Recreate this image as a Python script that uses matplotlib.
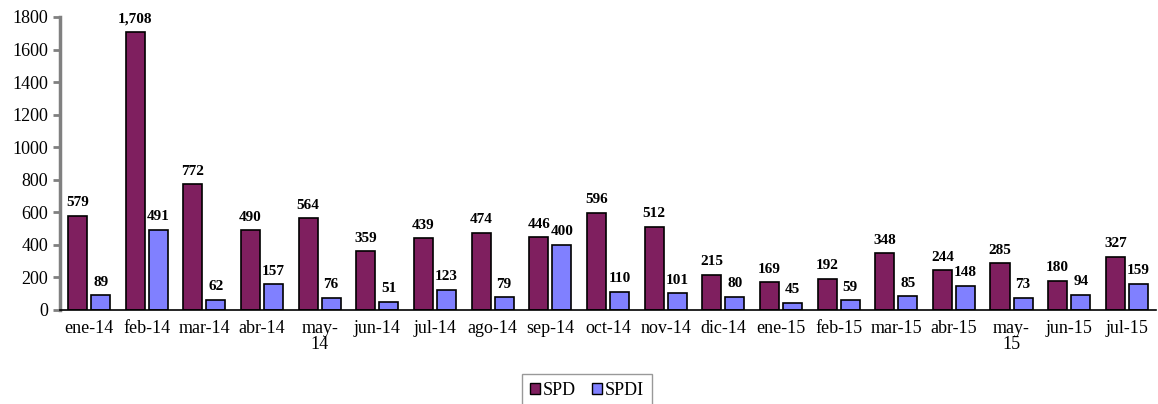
import numpy as np
import matplotlib
matplotlib.use('Agg')
from matplotlib import pyplot as plt
from matplotlib.patches import Patch

plt.rcParams['font.family'] = ['Liberation Serif', 'DejaVu Serif']

meses = ['ene-14', 'feb-14', 'mar-14', 'abr-14', 'may-\n14', 'jun-14', 'jul-14',
         'ago-14', 'sep-14', 'oct-14', 'nov-14', 'dic-14', 'ene-15', 'feb-15',
         'mar-15', 'abr-15', 'may-\n15', 'jun-15', 'jul-15']
spd = [579, 1708, 772, 490, 564, 359, 439, 474, 446, 596, 512, 215, 169, 192,
       348, 244, 285, 180, 327]
spdi = [89, 491, 62, 157, 76, 51, 123, 79, 400, 110, 101, 80, 45, 59, 85, 148,
        73, 94, 159]

c_spd = '#7f1f5f'
c_spdi = '#8080ff'

fig = plt.figure(figsize=(11.58, 4.04), dpi=100)
ax = fig.add_axes([0.052, 0.233, 0.946, 0.725])

x = np.arange(len(meses))
w = 0.33
off = 0.2
b1 = ax.bar(x - off, spd, w, color=c_spd, edgecolor='black', linewidth=1.2)
b2 = ax.bar(x + off, spdi, w, color=c_spdi, edgecolor='black', linewidth=1.2)

# etiquetas de valor encima de cada barra
for bars in (b1, b2):
    for r in bars:
        v = r.get_height()
        ax.text(r.get_x() + r.get_width() / 2, v + 40, f'{int(v):,}',
                ha='center', va='bottom', fontsize=11, fontweight='bold')

ax.set_xlim(-0.5, len(meses) - 0.5)
ax.set_ylim(0, 1800)
ax.set_yticks(range(0, 1801, 200))
ax.set_xticks(x)
ax.set_xticklabels(meses, fontsize=13, linespacing=0.95)
ax.tick_params(axis='y', labelsize=13, color='#808080', width=2, length=5)
ax.tick_params(axis='x', length=0, pad=7)

for s in ('top', 'right'):
    ax.spines[s].set_visible(False)
ax.spines['left'].set_color('#808080')
ax.spines['left'].set_linewidth(2.5)
ax.spines['bottom'].set_color('black')
ax.spines['bottom'].set_linewidth(1.2)

handles = [Patch(facecolor=c_spd, edgecolor='black'),
           Patch(facecolor=c_spdi, edgecolor='black')]
leg = fig.legend(handles, ['SPD', 'SPDI'], loc='upper center',
                 bbox_to_anchor=(0.507, 0.097), ncol=2, fontsize=13,
                 frameon=True, fancybox=False, handlelength=0.55,
                 handleheight=0.55, handletextpad=0.15, columnspacing=0.9,
                 borderpad=0.45)
leg.get_frame().set_edgecolor('#808080')
leg.get_frame().set_linewidth(1.0)

fig.savefig('out.png', dpi=100)
